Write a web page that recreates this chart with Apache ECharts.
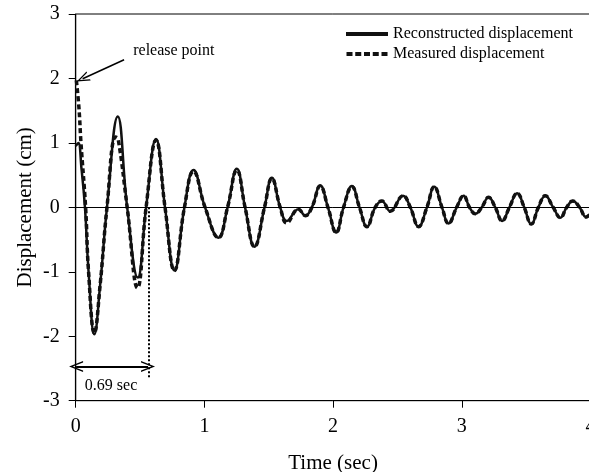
<!DOCTYPE html>
<html>
<head>
<meta charset="utf-8">
<script src="https://cdn.jsdelivr.net/npm/echarts@6/dist/echarts.min.js"></script>
<style>html,body{margin:0;padding:0;background:#fff;}#c{width:589px;height:472px;}</style>
</head>
<body>
<div id="c"></div>
<script>
// ---- data ----
var xTicks = [0, 1, 2, 3, 4];
var yTicks = [-3, -2, -1, 0, 1, 2, 3];
var reconTime = [0, 0.02, 0.045, 0.072, 0.1, 0.145, 0.19, 0.243, 0.327, 0.40, 0.482, 0.547, 0.624, 0.694, 0.767, 0.845, 0.915, 1.005, 1.109, 1.18, 1.252, 1.316, 1.389, 1.467, 1.524, 1.589, 1.64, 1.73, 1.785, 1.835, 1.90, 1.96, 2.024, 2.081, 2.146, 2.205, 2.263, 2.327, 2.379, 2.444, 2.543, 2.60, 2.664, 2.729, 2.786, 2.846, 2.897, 2.96, 3.014, 3.06, 3.105, 3.155, 3.208, 3.26, 3.313, 3.37, 3.43, 3.485, 3.54, 3.595, 3.649, 3.71, 3.766, 3.815, 3.862, 3.915, 3.966, 4.0];
var reconDisp = [0.95, 1.0, 0.6, 0, -1.0, -1.97, -1.2, 0, 1.41, 0, -1.09, 0, 1.06, 0, -0.98, 0, 0.58, 0, -0.47, 0, 0.60, 0, -0.61, 0, 0.46, 0, -0.21, -0.03, -0.13, 0, 0.34, 0, -0.39, 0, 0.33, 0, -0.30, 0, 0.10, -0.06, 0.18, 0, -0.30, 0, 0.32, 0, -0.25, 0, 0.18, 0, -0.10, 0, 0.155, 0, -0.21, 0, 0.22, 0, -0.26, 0, 0.18, 0, -0.16, 0, 0.10, 0, -0.15, -0.10];
var measTime = [0.005, 0.025, 0.041, 0.077, 0.1, 0.145, 0.19, 0.243, 0.31, 0.33, 0.40, 0.48, 0.547, 0.624, 0.694, 0.767, 0.845, 0.915, 1.005, 1.109, 1.18, 1.252, 1.316, 1.389, 1.467, 1.524, 1.589, 1.64, 1.73, 1.785, 1.835, 1.90, 1.96, 2.024, 2.081, 2.146, 2.205, 2.263, 2.327, 2.379, 2.444, 2.543, 2.60, 2.664, 2.729, 2.786, 2.846, 2.897, 2.96, 3.014, 3.06, 3.105, 3.155, 3.208, 3.26, 3.313, 3.37, 3.43, 3.485, 3.54, 3.595, 3.649, 3.71, 3.766, 3.815, 3.862, 3.915, 3.966, 4.0];
var measDisp = [1.97, 1.55, 1.0, 0, -1.0, -1.95, -1.2, 0, 1.09, 1.06, 0, -1.25, 0, 1.04, 0, -0.98, 0, 0.56, 0, -0.47, 0, 0.58, 0, -0.61, 0, 0.45, 0, -0.24, -0.03, -0.13, 0, 0.33, 0, -0.39, 0, 0.32, 0, -0.30, 0, 0.10, -0.06, 0.18, 0, -0.30, 0, 0.32, 0, -0.25, 0, 0.18, 0, -0.10, 0, 0.155, 0, -0.21, 0, 0.22, 0, -0.26, 0, 0.18, 0, -0.16, 0, 0.10, 0, -0.15, -0.10];
var seriesNames = ['Reconstructed displacement', 'Measured displacement'];
var releaseLabel = 'release point';
var periodLabel = '0.69 sec';

function pairs(t, v) { return t.map(function (x, i) { return [x, v[i]]; }); }

var FONT = '"Liberation Serif", "Times New Roman", serif';
var chevron = 'path://M5,0 L10,12 L8.6,12 L5,3.2 L1.4,12 L0,12 Z';
var solidIcon = 'path://M0,0 H42 V4 H0 Z';
var dashIcon = 'path://M0,0 H6 V4 H0 Z M8.75,0 H14.75 V4 H8.75 Z M17.5,0 H23.5 V4 H17.5 Z M26.25,0 H32.25 V4 H26.25 Z M35,0 H41 V4 H35 Z';

var chart = echarts.init(document.getElementById('c'), null, { renderer: 'canvas' });
chart.setOption({
  animation: false,
  backgroundColor: '#fff',
  grid: { left: 75.7, top: 14, width: 514.8, height: 386.7, outerBoundsMode: 'none', containLabel: false, show: true, borderColor: '#000', borderWidth: 1, backgroundColor: 'transparent' },
  legend: {
    orient: 'vertical', left: 346, top: 26, padding: 0, itemWidth: 42, itemHeight: 4, itemGap: 4,
    textStyle: { fontFamily: FONT, fontSize: 16, color: '#000', lineHeight: 16 },
    itemStyle: { color: '#111', borderWidth: 0 },
    data: [
      { name: seriesNames[0], icon: solidIcon },
      { name: seriesNames[1], icon: dashIcon }
    ]
  },
  xAxis: {
    type: 'value', min: xTicks[0], max: xTicks[xTicks.length - 1], interval: 1,
    name: 'Time (sec)', nameLocation: 'middle', nameGap: 52, nameMoveOverlap: false,
    nameTextStyle: { fontFamily: FONT, fontSize: 21, color: '#000' },
    axisLine: { onZero: false, lineStyle: { color: '#000', width: 1 } },
    axisTick: { show: true, inside: false, length: 7, lineStyle: { color: '#000' } },
    axisLabel: { fontFamily: FONT, fontSize: 20, color: '#000', margin: 16, showMaxLabel: true },
    splitLine: { show: false }
  },
  yAxis: {
    type: 'value', min: yTicks[0], max: yTicks[yTicks.length - 1], interval: 1,
    name: 'Displacement (cm)', nameLocation: 'middle', nameGap: 40, nameMoveOverlap: false,
    nameTextStyle: { fontFamily: FONT, fontSize: 21, color: '#000' },
    axisLine: { show: true, onZero: false, lineStyle: { color: '#000', width: 1.2 } },
    axisTick: { show: true, inside: false, length: 7, lineStyle: { color: '#000' } },
    axisLabel: { fontFamily: FONT, fontSize: 20, color: '#000', margin: 16 },
    splitLine: { show: false }
  },
  series: [
    {
      name: seriesNames[1], type: 'line', data: pairs(measTime, measDisp),
      smooth: 0.45, showSymbol: false, symbol: 'none', z: 2,
      lineStyle: { color: '#111', width: 3.5, type: [5, 3] }, itemStyle: { color: '#111' }
    },
    {
      name: seriesNames[0], type: 'line', data: pairs(reconTime, reconDisp),
      smooth: 0.45, showSymbol: false, symbol: 'none', z: 3,
      lineStyle: { color: '#111', width: 2.5, type: 'solid' }, itemStyle: { color: '#111' },
      markLine: {
        silent: true, animation: false, label: { show: false },
        data: [
          [{ coord: [0, 0], symbol: 'none', lineStyle: { color: '#000', width: 1, type: 'solid' } }, { coord: [4, 0], symbol: 'none' }],
          [{ coord: [0.57, 0], symbol: 'none', lineStyle: { color: '#000', width: 2, type: [2, 2] } }, { coord: [0.57, -2.66], symbol: 'none' }],
          [{ coord: [0.003, -2.47], symbol: chevron, symbolSize: [11, 14], lineStyle: { color: '#000', width: 1.8, type: 'solid' } }, { coord: [0.562, -2.47], symbol: chevron, symbolSize: [11, 14] }],
          [{ coord: [0.376, 2.29], symbol: 'none', lineStyle: { color: '#000', width: 1.5, type: 'solid' } }, { coord: [0.054, 1.995], symbol: chevron, symbolSize: [10, 13] }]
        ]
      },
      markPoint: {
        silent: true, animation: false, symbol: 'circle', symbolSize: 1,
        itemStyle: { color: 'rgba(0,0,0,0)' },
        label: { show: true, position: 'right', distance: 0, fontFamily: FONT, fontSize: 16, color: '#000' },
        data: [
          { coord: [0.443, 2.43], label: { formatter: releaseLabel } },
          { coord: [0.067, -2.77], label: { formatter: periodLabel } }
        ]
      }
    }
  ]
});
</script>
</body>
</html>
